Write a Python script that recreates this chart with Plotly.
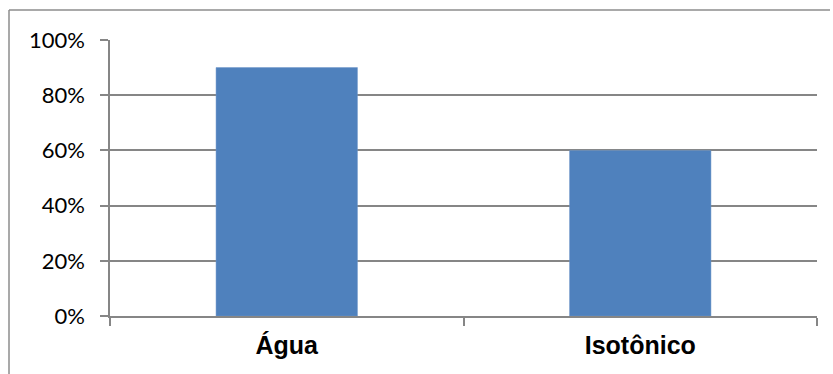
import plotly.graph_objects as go

categories = ["Água", "Isotônico"]
values = [0.90, 0.60]
tick_vals = [0, 0.2, 0.4, 0.6, 0.8, 1.0]
tick_text = ["0%", "20%", "40%", "60%", "80%", "100%"]

W, H = 833, 374
L, R, T, B = 110, 16, 40, 58
pw = W - L - R
ph = H - T - B

fig = go.Figure(go.Bar(
    x=categories, y=values,
    marker=dict(color="#4F81BD", line=dict(color="#6F97C9", width=0.5)),
    width=0.4,
))

grid = "#868686"
fig.update_layout(
    width=W, height=H,
    margin=dict(l=L, r=R, t=T, b=B, pad=0),
    paper_bgcolor="white", plot_bgcolor="white",
    showlegend=False,
    xaxis=dict(
        showline=True, linecolor=grid, linewidth=1.5,
        ticks="outside", tickson="boundaries", ticklen=8, tickcolor=grid, tickwidth=1.5,
        tickfont=dict(family="Liberation Sans, Arial", size=25, color="black", weight="bold"),
        ticklabelstandoff=6,
        showgrid=False,
    ),
    yaxis=dict(
        range=[0, 1.0], tickvals=tick_vals, ticktext=tick_text,
        showline=True, linecolor=grid, linewidth=1.5,
        ticks="outside", ticklen=8, tickcolor=grid, tickwidth=1.5,
        showgrid=True, gridcolor=grid, gridwidth=1.5,
        tickfont=dict(family="Lato, Open Sans, sans-serif", size=22, color="black"),
        ticklabelstandoff=11,
        zeroline=False,
    ),
)

# chart border (left and top visible)
x_left = (9 - L) / pw
y_top = 1 + (T - 10) / ph
fig.add_shape(type="line", xref="paper", yref="paper",
              x0=x_left, x1=x_left, y0=y_top, y1=-2,
              line=dict(color="#8C8C8C", width=1.5))
fig.add_shape(type="line", xref="paper", yref="paper",
              x0=x_left, x1=(830 - L) / pw, y0=y_top, y1=y_top,
              line=dict(color="#8C8C8C", width=1.5))

fig.write_html("out.html")
